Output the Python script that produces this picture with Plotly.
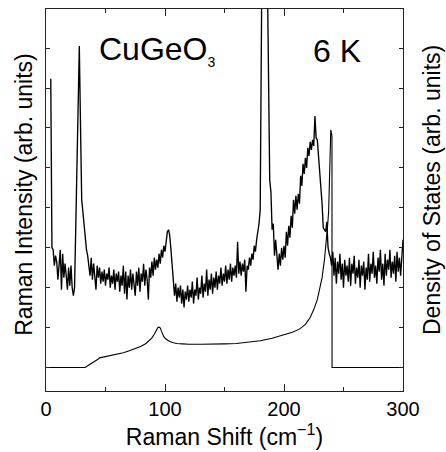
import plotly.graph_objects as go

# Raman spectrum of CuGeO3 at 6 K, sampled every 1 cm^-1 from 4 to 300 cm^-1
raman_shift = list(range(4, 301))
raman_intensity = [
    7.23, 3.00, 2.95, 2.55, 2.80, 2.65, 2.20, 2.60, 2.95, 1.95,   # 4-13
    2.85, 2.25, 2.60, 2.30, 1.95, 2.50, 2.05, 2.55, 2.00, 1.80,   # 14-23
    2.00, 3.50, 5.00, 6.60, 8.05, 6.05, 4.20, 3.90, 3.55, 3.35,   # 24-33
    2.95, 2.80, 2.55, 2.30, 2.75, 2.20, 2.60, 2.35, 1.95, 2.55,   # 34-43
    2.25, 2.50, 2.10, 2.40, 2.15, 2.45, 2.05, 2.35, 2.20, 2.50,   # 44-53
    2.00, 2.30, 2.10, 2.45, 1.95, 2.35, 2.15, 2.40, 1.90, 2.30,   # 54-63
    2.05, 2.55, 1.85, 2.40, 1.70, 2.30, 2.00, 2.45, 1.95, 2.35,   # 64-73
    2.10, 1.80, 2.40, 2.05, 2.50, 1.90, 2.35, 2.15, 2.60, 2.05,   # 74-83
    2.45, 2.20, 1.70, 2.50, 2.25, 2.65, 2.30, 2.75, 2.45, 2.70,   # 84-93
    2.50, 2.85, 2.60, 2.95, 2.75, 3.05, 2.90, 3.25, 3.40, 3.45,   # 94-103
    3.30, 2.95, 2.55, 2.20, 1.80, 2.10, 1.65, 2.00, 1.75, 2.05,   # 104-113
    1.60, 1.95, 1.50, 1.90, 1.70, 2.05, 1.65, 1.95, 1.75, 2.15,   # 114-123
    1.60, 1.95, 1.80, 2.25, 1.70, 2.00, 1.85, 2.30, 1.75, 2.10,   # 124-133
    1.90, 2.45, 1.80, 2.20, 1.95, 2.35, 1.85, 2.25, 2.00, 2.40,   # 134-143
    1.95, 2.30, 2.10, 2.50, 2.05, 2.35, 2.15, 2.55, 2.10, 2.45,   # 144-153
    2.20, 2.60, 2.15, 2.50, 2.30, 2.55, 2.25, 3.15, 2.35, 2.65,   # 154-163
    2.30, 2.60, 2.40, 2.70, 1.90, 2.55, 2.45, 2.75, 2.55, 2.85,   # 164-173
    2.70, 3.05, 2.90, 3.20, 3.40, 3.60, 3.95, 9.50, 12.5, 15.0,   # 174-183
    15.0, 12.5, 9.80, 6.00, 4.70, 4.40, 3.45, 3.60, 2.80, 3.20,   # 184-193
    2.70, 2.45, 2.85, 2.55, 3.00, 2.70, 3.05, 2.75, 3.40, 3.05,   # 194-203
    3.55, 3.25, 3.80, 3.50, 4.20, 3.85, 4.30, 3.95, 4.35, 4.10,   # 204-213
    4.80, 4.55, 5.10, 4.85, 5.25, 5.00, 5.50, 5.30, 5.65, 5.45,   # 214-223
    5.70, 5.55, 6.30, 5.75, 5.70, 5.30, 5.00, 4.55, 4.10, 3.50,   # 224-233
    3.45, 3.40, 3.65, 3.00, 2.85, 2.75, 2.55, 2.90, 2.30, 2.75,   # 234-243
    2.10, 2.65, 2.35, 2.85, 2.20, 2.60, 2.00, 2.70, 2.30, 2.55,   # 244-253
    2.15, 2.75, 2.05, 2.60, 2.35, 2.80, 2.10, 2.50, 2.25, 2.70,   # 254-263
    2.00, 2.55, 2.30, 2.65, 1.95, 2.50, 2.20, 2.85, 2.15, 2.60,   # 264-273
    2.35, 2.90, 2.25, 2.55, 2.10, 2.75, 2.40, 2.95, 2.20, 2.60,   # 274-283
    2.05, 2.85, 2.30, 2.70, 2.45, 2.95, 2.25, 2.65, 2.35, 2.80,   # 284-293
    2.15, 2.90, 2.40, 2.75, 2.30, 2.85, 3.20,                     # 294-300
]

# Calculated two-magnon density of states
dos_shift = [0, 33, 36, 39, 42, 44, 45, 50, 55, 60, 65, 70, 75, 80, 84, 87,
             89, 91, 92.5, 94, 95, 96, 97, 98, 99, 100.5, 102, 104, 107, 110,
             115, 120, 130, 140, 150, 160, 170, 180, 190, 200, 207, 213, 218,
             222, 225, 228, 230, 232, 234, 235.5, 236.5, 237.5, 238.3, 239.3,
             240.3, 240.4, 300]
dos_value = [0, 0, 0.06, 0.11, 0.17, 0.21, 0.24, 0.27, 0.30, 0.33, 0.37, 0.42,
             0.47, 0.53, 0.60, 0.67, 0.74, 0.83, 0.93, 1.00, 1.01, 0.99, 0.91,
             0.83, 0.77, 0.72, 0.68, 0.65, 0.62, 0.60, 0.59, 0.58, 0.58, 0.58,
             0.59, 0.60, 0.63, 0.67, 0.73, 0.81, 0.88, 0.96, 1.08, 1.25, 1.45,
             1.70, 1.95, 2.25, 2.70, 3.10, 3.50, 3.90, 4.70, 5.95, 5.80, 0, 0]

x_ticks = [0, 100, 200, 300]
y_ticks = [0, 1, 2, 3, 4, 5, 6, 7, 8]

FONT = "Liberation Sans, Arial, Helvetica, sans-serif"

fig = go.Figure()
fig.add_trace(go.Scatter(x=dos_shift, y=dos_value, mode="lines",
                         line=dict(color="black", width=1.1), showlegend=False))
fig.add_trace(go.Scatter(x=raman_shift, y=raman_intensity, mode="lines",
                         line=dict(color="black", width=1.35), showlegend=False))

axis_common = dict(showline=True, linecolor="#222", linewidth=1.2,
                   mirror="ticks", ticks="inside", tickcolor="#222",
                   showgrid=False, zeroline=False)

fig.update_xaxes(range=[0, 300], tickvals=x_ticks, ticklen=7, tickwidth=1.2,
                 minor=dict(dtick=50, ticks="inside", ticklen=4, tickcolor="#222",
                            tickwidth=1.2, showgrid=False),
                 tickfont=dict(size=20, color="black", family=FONT),
                 title=dict(text="Raman Shift (cm<sup>−1</sup>)", standoff=1,
                            font=dict(size=23, color="black", family=FONT)),
                 automargin=False, **axis_common)
fig.update_yaxes(range=[-0.59, 8.98], tickvals=y_ticks, ticklen=4, tickwidth=1.2,
                 showticklabels=False, automargin=False, **axis_common)

fig.add_annotation(text="CuGeO<sub><span style='font-size:14px'>3</span></sub>",
                   x=43, y=7.93, xref="x", yref="y", xanchor="left", yanchor="middle",
                   showarrow=False, font=dict(size=32, color="black", family=FONT))
fig.add_annotation(text="6 K", x=244.8, y=7.94, xref="x", yref="y",
                   xanchor="center", yanchor="middle", showarrow=False,
                   font=dict(size=32, color="black", family=FONT))
fig.add_annotation(text="Raman Intensity (arb. units)", textangle=-90,
                   x=-0.062, y=0.516, xref="paper", yref="paper",
                   xanchor="center", yanchor="middle", showarrow=False,
                   font=dict(size=23, color="black", family=FONT))
fig.add_annotation(text="Density of States (arb. units)", textangle=-90,
                   x=1.081, y=0.526, xref="paper", yref="paper",
                   xanchor="center", yanchor="middle", showarrow=False,
                   font=dict(size=23, color="black", family=FONT))

fig.update_layout(width=446, height=452,
                  margin=dict(l=46, r=43, t=9, b=61, pad=0),
                  paper_bgcolor="white", plot_bgcolor="white",
                  font=dict(family=FONT, color="black"))

fig.write_html("out.html")
